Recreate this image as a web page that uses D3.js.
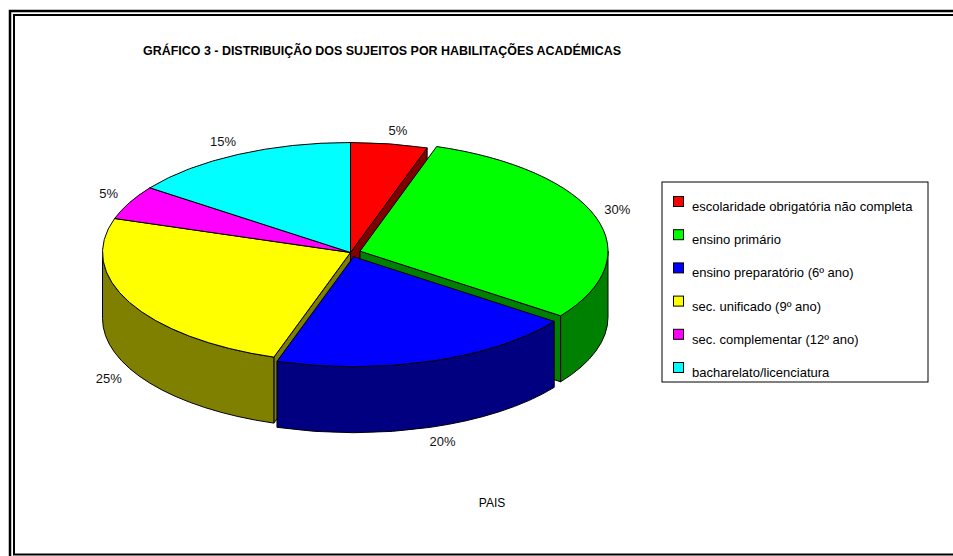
<!DOCTYPE html>
<html>
<head>
<meta charset="utf-8">
<script src="https://cdn.jsdelivr.net/npm/d3@7"></script>
<style>
  body { margin: 0; background: #fff; }
  svg { display: block; font-family: "Liberation Sans", Arial, sans-serif; }
</style>
</head>
<body>
<div id="chart"></div>
<script>
// data
var categories = [
    "escolaridade obrigatória não completa",
    "ensino primário",
    "ensino preparatório (6º ano)",
    "sec. unificado (9º ano)",
    "sec. complementar (12º ano)",
    "bacharelato/licenciatura"
];
var percents = [5, 30, 20, 25, 5, 15];
var topColors = ["#ff0000", "#00ff00", "#0000ff", "#ffff00", "#ff00ff", "#00ffff"];
var sideColors = ["#800000", "#008000", "#000080", "#808000", "#800080", "#008080"];
var explodedSlices = ["ensino primário", "ensino preparatório (6º ano)"];

var width = 953, height = 556;

var svg = d3.select("#chart")
    .append("svg")
    .attr("width", width)
    .attr("height", height);

// double frame
svg.append("rect")
    .attr("x", 10).attr("y", 11)
    .attr("width", 960).attr("height", 560)
    .attr("fill", "none").attr("stroke", "#000").attr("stroke-width", 2.5);
svg.append("rect")
    .attr("x", 14).attr("y", 15)
    .attr("width", 960).attr("height", 539.5)
    .attr("fill", "none").attr("stroke", "#000").attr("stroke-width", 2);

svg.append("text")
    .attr("x", 143).attr("y", 55)
    .attr("textLength", 478).attr("lengthAdjust", "spacingAndGlyphs")
    .style("font-size", "12px").style("font-weight", "bold")
    .text("GRÁFICO 3 - DISTRIBUIÇÃO DOS SUJEITOS POR HABILITAÇÕES ACADÉMICAS");

svg.append("text")
    .attr("x", 492).attr("y", 507)
    .attr("text-anchor", "middle")
    .style("font-size", "12px")
    .text("PAIS");

// 3d pie geometry
var cx = 350.5, cy = 252.5, rx = 248, ry = 110, depth = 66, explode = 10;

var topColor = d3.scaleOrdinal().domain(categories).range(topColors);
var sideColor = d3.scaleOrdinal().domain(categories).range(sideColors);

var pie = d3.pie().sort(null).startAngle(0).endAngle(2 * Math.PI)
    .value(function (d, i) { return percents[i]; });
var arcs = pie(categories);

arcs.forEach(function (d) {
    var mid = (d.startAngle + d.endAngle) / 2;
    var e = explodedSlices.indexOf(d.data) >= 0 ? explode : 0;
    d.ox = cx + e * Math.sin(mid);
    d.oy = cy - e * Math.cos(mid) * ry / rx;
    d.mid = mid;
});

function pt(d, a, dz) {
    return [d.ox + rx * Math.sin(a), d.oy - ry * Math.cos(a) + (dz || 0)];
}

function topPath(d) {
    var p0 = pt(d, d.startAngle), p1 = pt(d, d.endAngle);
    var large = d.endAngle - d.startAngle > Math.PI ? 1 : 0;
    return "M" + d.ox + "," + d.oy + "L" + p0 + "A" + rx + "," + ry + " 0 " + large + " 1 " + p1 + "Z";
}

function wallPath(d, a0, a1) {
    var p0 = pt(d, a0), p1 = pt(d, a1), q1 = pt(d, a1, depth), q0 = pt(d, a0, depth);
    return "M" + p0 + "A" + rx + "," + ry + " 0 0 1 " + p1 + "L" + q1 +
        "A" + rx + "," + ry + " 0 0 0 " + q0 + "Z";
}

function facePath(d, a) {
    var p = pt(d, a), q = pt(d, a, depth);
    return "M" + d.ox + "," + d.oy + "L" + p + "L" + q + "L" + d.ox + "," + (d.oy + depth) + "Z";
}

// collect visible side pieces, draw back to front
var sides = [];
arcs.forEach(function (d) {
    var a0 = Math.max(d.startAngle, Math.PI / 2), a1 = Math.min(d.endAngle, 3 * Math.PI / 2);
    if (a1 > a0) {
        var m = (a0 + a1) / 2;
        sides.push({ d: d, path: wallPath(d, a0, a1), z: pt(d, m)[1] + depth });
    }
    if (Math.sin(d.startAngle) < -1e-6) {
        sides.push({ d: d, path: facePath(d, d.startAngle), z: (d.oy + pt(d, d.startAngle)[1]) / 2 + depth / 2 });
    }
    if (Math.sin(d.endAngle) > 1e-6) {
        sides.push({ d: d, path: facePath(d, d.endAngle), z: (d.oy + pt(d, d.endAngle)[1]) / 2 + depth / 2 });
    }
});
sides.sort(function (a, b) { return a.z - b.z; });

var pieG = svg.append("g");
pieG.selectAll("path.side")
    .data(sides)
    .enter().append("path")
    .attr("class", "side")
    .attr("d", function (s) { return s.path; })
    .attr("fill", function (s) { return sideColor(s.d.data); })
    .attr("stroke", "#000").attr("stroke-width", 1)
    .attr("stroke-linejoin", "round");

pieG.selectAll("path.top")
    .data(arcs)
    .enter().append("path")
    .attr("class", "top")
    .attr("d", topPath)
    .attr("fill", function (d) { return topColor(d.data); })
    .attr("stroke", "#000").attr("stroke-width", 1)
    .attr("stroke-linejoin", "round");

// percentage labels
pieG.selectAll("text.lbl")
    .data(arcs)
    .enter().append("text")
    .attr("class", "lbl")
    .attr("text-anchor", "middle")
    .style("font-size", "13px")
    .attr("fill", "#111")
    .each(function (d) {
        var s = Math.sin(d.mid), c = Math.cos(d.mid);
        var p = pt(d, d.mid, c < 0 ? depth : 0);
        var x = p[0] + 22 * Math.sign(s) * Math.sqrt(Math.abs(s));
        var y = p[1] - 14 * Math.sign(c) * Math.sqrt(Math.abs(c));
        d3.select(this).attr("x", x).attr("y", y + 5);
    })
    .text(function (d) { return d.value + "%"; });

// legend
var legend = svg.append("g").attr("transform", "translate(662,182)");
legend.append("rect")
    .attr("width", 266).attr("height", 200)
    .attr("fill", "#fff").attr("stroke", "#000").attr("stroke-width", 1);

var rows = legend.selectAll("g.row")
    .data(categories)
    .enter().append("g")
    .attr("class", "row")
    .attr("transform", function (d, i) { return "translate(0," + (14 + i * 33.2) + ")"; });
rows.append("rect")
    .attr("x", 11.5).attr("y", 0.5)
    .attr("width", 10).attr("height", 10)
    .attr("fill", function (d) { return topColor(d); })
    .attr("stroke", "#000").attr("stroke-width", 1);
rows.append("text")
    .attr("x", 30).attr("y", 15)
    .style("font-size", "13px")
    .text(function (d) { return d; });
</script>
</body>
</html>
